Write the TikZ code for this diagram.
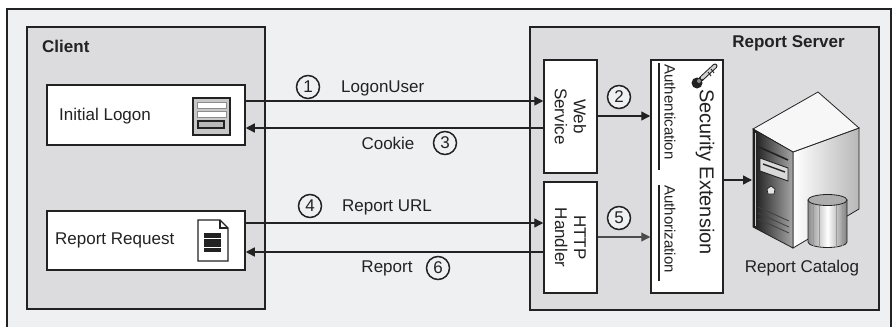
\documentclass[tikz,border=0pt]{standalone}
\usepackage{fontspec}
\setmainfont{Liberation Sans}
\usetikzlibrary{arrows.meta,shapes.geometric,calc}

\definecolor{pagebg}{HTML}{EFF0F2}
\definecolor{panel}{HTML}{DCDCDE}
\definecolor{ink}{HTML}{222222}

\begin{document}
\begin{tikzpicture}[x=1pt,y=-1pt,
  font=\fontsize{17}{19}\selectfont,
  panelbox/.style={draw=ink,line width=1.5pt,fill=panel,inner sep=0pt},
  whitebox/.style={draw=ink,line width=1.5pt,fill=white,inner sep=0pt},
  arr/.style={draw=ink,line width=1.4pt,-{Triangle[length=9pt,width=9pt]}},
  stepnum/.style={circle,draw=ink,line width=1.5pt,fill=pagebg,minimum size=23pt,inner sep=0pt,text=ink},
  lbl/.style={inner sep=0pt,text=ink},
  vlbl/.style={inner sep=0pt,text=ink,rotate=-90,align=center},
  heading/.style={inner sep=0pt,text=ink,font=\fontsize{17}{19}\selectfont\bfseries}]

\useasboundingbox (0,0) rectangle (893,327);
\fill[white] (0,0) rectangle (893,327);
\fill[pagebg] (7,9) rectangle (891,327);
\draw[ink,line width=1.3pt] (7,327) -- (7,9) -- (891,9) -- (891,327);

% ---------- client side ----------
\node[panelbox,minimum width=238pt,minimum height=282pt] (client) at (146,168) {};
\node[heading,anchor=west] (clienttitle) at (42,46) {Client};

\node[whitebox,minimum width=198pt,minimum height=60pt] (logon) at (146,115) {};
\node[lbl,anchor=west] (logontext) at (59,116) {Initial Logon};

\node[whitebox,minimum width=198pt,minimum height=59pt] (request) at (146,240.5) {};
\node[lbl,anchor=west] (requesttext) at (55,240.5) {Report Request};

% logon form icon
\filldraw[fill=black!22,draw=ink,line width=1.2pt] (193,98) rectangle (230,135);
\filldraw[fill=white,draw=black!45,line width=0.8pt] (197,102) rectangle (226,108);
\filldraw[fill=white,draw=black!45,line width=0.8pt] (197,111) rectangle (226,117);
\filldraw[fill=black!28,draw=ink,line width=1.2pt] (198,121) rectangle (224,128);

% report document icon
\filldraw[fill=white,draw=ink,line width=1.2pt]
  (198,220) -- (220,220) -- (228,228) -- (228,261) -- (198,261) -- cycle;
\draw[ink,line width=1.2pt] (220,220) -- (220,228) -- (228,228);
\fill[ink] (204,233) rectangle (221,252);
\draw[white,line width=0.8pt] (204,238) -- (221,238);
\draw[white,line width=0.8pt] (204,247) -- (221,247);

% ---------- server side ----------
\node[panelbox,minimum width=349pt,minimum height=283pt] (server) at (704.5,168.5) {};
\node[heading] (servertitle) at (788.5,43) {Report Server};

\node[whitebox,minimum width=53pt,minimum height=113pt] (web) at (570.5,116.5) {};
\node[vlbl] (webtext) at (web.center) {Web\\Service};

\node[whitebox,minimum width=53pt,minimum height=111pt] (http) at (570.5,237.5) {};
\node[vlbl] (httptext) at (http.center) {HTTP\\Handler};

\node[whitebox,minimum width=72pt,minimum height=233pt] (sec) at (687,176.5) {};
\node[vlbl,font=\fontsize{20}{22}\selectfont] (sectext) at (705,172) {Security Extension};
\node[vlbl,font=\fontsize{15}{17}\selectfont] (authn) at (670,112) {Authentication};
\node[vlbl,font=\fontsize{15}{17}\selectfont] (authz) at (670,229) {Authorization};
\draw[ink,line width=1.2pt] (659,63) -- (659,170);
\draw[ink,line width=1.2pt] (659,185) -- (659,281);

% key glyph beside the extension title
\draw[ink,line width=5pt,line cap=round] (701,79) -- (715,66);
\draw[black!18,line width=3pt,line cap=round] (702,78) -- (715,66);
\draw[ink,line width=0.9pt] (708,72) -- (711,76) (711,69) -- (714,73);
\fill[ink] (697,83) circle (5.5);
\fill[black!45] (699,81) circle (2);

% server tower
\shade[left color=white,right color=black!28,draw=ink,line width=0.8pt]
  (793,152) -- (859,128) -- (859,209) -- (793,248) -- cycle;
\filldraw[fill=black!3,draw=ink,line width=0.8pt]
  (753,129) -- (818,92) -- (859,128) -- (793,152) -- cycle;
\shade[left color=black!90,right color=black!35,draw=ink,line width=0.8pt]
  (753,129) -- (793,152) -- (793,248) -- (753,227) -- cycle;
\draw[black!20,line width=1pt] (755.5,133) -- (755.5,226);
\draw[ink,line width=1.6pt] (759,147) -- (788,160);
\filldraw[fill=black!15,draw=ink,line width=0.9pt]
  (760,158) -- (788,168) -- (788,181) -- (760,171) -- cycle;
\draw[ink,line width=1.4pt] (763,164) -- (785,172);
\filldraw[fill=black!10,draw=ink,line width=0.7pt]
  (771,186) -- (775,189) -- (774,194) -- (768,194) -- (767,189) -- cycle;
\draw[black!75,line width=0.8pt] (758,207) -- (789,221);
\draw[black!75,line width=0.8pt] (758,213) -- (789,227);
\draw[black!75,line width=0.8pt] (758,219) -- (789,233);
\coordinate (srvfront) at (752,180);

% catalog cylinder
\shade[left color=black!45,right color=black!50,middle color=white,draw=ink,line width=0.8pt]
  (808,200) -- (808,242) arc[start angle=180,end angle=0,x radius=19.5,y radius=5.5]
  -- (847,200) -- cycle;
\draw[black!40,line width=0.6pt] (813,204) -- (813,246);
\draw[black!40,line width=0.6pt] (819,205) -- (819,247);
\draw[black!40,line width=0.6pt] (836,205) -- (836,247);
\draw[black!40,line width=0.6pt] (842,204) -- (842,246);
\filldraw[fill=black!32,draw=ink,line width=0.8pt] (827.5,200) ellipse[x radius=19.5,y radius=5.5];
\node[lbl] (catalog) at (802,268) {Report Catalog};

% ---------- connectors ----------
\draw[arr] (logon.east |- 0,101) -- (web.west |- 0,101);
\draw[arr] (web.west |- 0,128) -- (logon.east |- 0,128);
\draw[arr] (request.east |- 0,223) -- (http.west |- 0,223);
\draw[arr] (http.west |- 0,252) -- (request.east |- 0,252);
\draw[arr] (web.east |- 0,116) -- (sec.west |- 0,116);
\draw[arr,line width=1.1pt,draw=black!70] (http.east |- 0,237) -- (sec.west |- 0,237);
\draw[arr] (sec.east |- 0,180) -- (srvfront);

% step numbers and message labels
\node[stepnum] (n1) at (308,87) {1};
\node[lbl,anchor=west] (m1) at (341,88) {LogonUser};
\node[stepnum] (n2) at (619,97) {2};
\node[lbl] (m3) at (388,143) {Cookie};
\node[stepnum] (n3) at (445,143) {3};
\node[stepnum] (n4) at (310,206) {4};
\node[lbl,anchor=west] (m4) at (342,207) {Report URL};
\node[stepnum] (n5) at (619,218) {5};
\node[lbl] (m6) at (387,268) {Report};
\node[stepnum] (n6) at (438,268) {6};

\end{tikzpicture}
\end{document}
